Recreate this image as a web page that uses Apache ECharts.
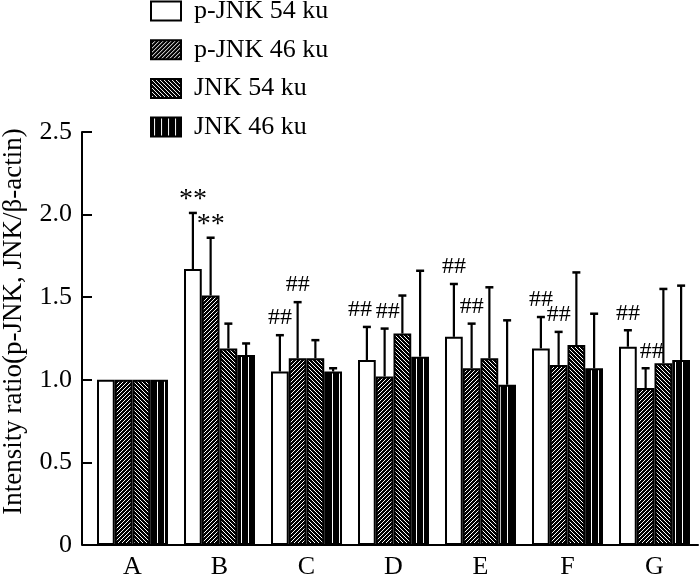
<!DOCTYPE html>
<html>
<head>
	<meta charset="utf-8" />
	<title>JNK</title>
	<style type="text/css">
		html,body{margin:0;padding:0;background:#fff;}
		#main{width:700px;height:579px;}
	</style>
</head>
<body>
	<div id="main"></div>
<script src="https://cdn.jsdelivr.net/npm/echarts@6/dist/echarts.min.js"></script>
<script>
	// 组别
	var groups = ['A', 'B', 'C', 'D', 'E', 'F', 'G'];
	var seriesNames = ['p-JNK 54 ku', 'p-JNK 46 ku', 'JNK 54 ku', 'JNK 46 ku'];
	// 均值
	var pJnk54 = [1.00, 1.67, 1.05, 1.12, 1.26, 1.19, 1.20];
	var pJnk46 = [1.00, 1.51, 1.13, 1.02, 1.07, 1.09, 0.95];
	var jnk54 = [1.00, 1.19, 1.13, 1.28, 1.13, 1.21, 1.10];
	var jnk46 = [1.00, 1.15, 1.05, 1.14, 0.97, 1.07, 1.12];
	// 标准差 (只画上半部分)
	var pJnk54Sd = [0, 0.34, 0.22, 0.20, 0.32, 0.19, 0.10];
	var pJnk46Sd = [0, 0.35, 0.34, 0.29, 0.27, 0.20, 0.12];
	var jnk54Sd = [0, 0.15, 0.11, 0.23, 0.43, 0.44, 0.45];
	var jnk46Sd = [0, 0.07, 0.02, 0.52, 0.39, 0.33, 0.45];
	// 显著性标记
	var pJnk54Mark = ['', '**', '##', '##', '##', '##', '##'];
	var pJnk46Mark = ['', '**', '##', '##', '##', '##', '##'];
	var jnk54Mark = ['', '', '', '', '', '', ''];
	var jnk46Mark = ['', '', '', '', '', '', ''];

	var means = [pJnk54, pJnk46, jnk54, jnk46];
	var sds = [pJnk54Sd, pJnk46Sd, jnk54Sd, jnk46Sd];
	var marks = [pJnk54Mark, pJnk46Mark, jnk54Mark, jnk46Mark];
	// 几个标记稍微左右挪一下, 免得重叠 (系列-组别: 像素)
	var markNudge = {'0-3': -7, '1-3': 3, '1-6': 6};

	var GAP = 0.184;
	var FONT = '"Liberation Serif", "Times New Roman", serif';

	// 填充图案, 逐像素画, 线条清楚一点
	function hatch(kind) {
		var s = kind === 'v' ? 7 : 4;
		var c = document.createElement('canvas');
		c.width = s; c.height = s;
		var g = c.getContext('2d');
		var img = g.createImageData(s, s);
		for (var y = 0; y < s; y++) {
			for (var x = 0; x < s; x++) {
				var white;
				if (kind === 'v') white = x === 3;
				else if (kind === 'up') white = (x + y) % s === 0;
				else white = (x - y + s) % s === 0;
				var p = (y * s + x) * 4;
				var v = white ? 255 : 0;
				img.data[p] = v; img.data[p + 1] = v; img.data[p + 2] = v; img.data[p + 3] = 255;
			}
		}
		g.putImageData(img, 0, 0);
		return {image: c, repeat: 'repeat'};
	}
	var fills = ['#fff', hatch('up'), hatch('down'), hatch('v')];

	// 误差棒数据
	var errData = [];
	var errMarks = [];
	var errNudge = [];
	for (var s = 0; s < 4; s++) {
		for (var i = 0; i < groups.length; i++) {
			errData.push([i, means[s][i], means[s][i] + sds[s][i], s]);
			errMarks.push(marks[s][i]);
			errNudge.push(markNudge[s + '-' + i] || 0);
		}
	}

	var chart = echarts.init(document.getElementById('main'));
	var series = [];
	for (var k = 0; k < 4; k++) {
		series.push({
			name: seriesNames[k],
			type: 'bar',
			data: means[k],
			barGap: '0%',
			barCategoryGap: (GAP * 100) + '%',
			itemStyle: {
				color: fills[k],
				borderColor: '#000',
				borderWidth: 2
			},
			emphasis: {disabled: true}
		});
	}
	series.push({
		type: 'custom',
		z: 5,
		data: errData,
		encode: {x: 0, y: 2},
		renderItem: function (params, api) {
			var cat = api.value(0), mean = api.value(1), top = api.value(2), s = api.value(3);
			var band = api.size([1, 0])[0];
			var bw = band * (1 - GAP) / 4;
			var p0 = api.coord([cat, mean]);
			var p1 = api.coord([cat, top]);
			var x = p0[0] + (s - 1.5) * bw;
			var children = [];
			if (top > mean) {
				children.push({
					type: 'line',
					shape: {x1: x, y1: p0[1], x2: x, y2: p1[1]},
					style: {stroke: '#000', lineWidth: 2.2}
				});
				children.push({
					type: 'line',
					shape: {x1: x - 4, y1: p1[1], x2: x + 4, y2: p1[1]},
					style: {stroke: '#000', lineWidth: 2.5}
				});
			}
			var m = errMarks[params.dataIndex];
			if (m) {
				var star = m === '**';
				children.push({
					type: 'text',
					style: {
						x: x + errNudge[params.dataIndex],
						y: p1[1] - (star ? -1 : 5),
						text: m,
						fill: '#000',
						font: (star ? '28px ' : '24px ') + FONT,
						align: 'center',
						verticalAlign: 'bottom'
					}
				});
			}
			return {type: 'group', children: children};
		}
	});

	chart.setOption({
		animation: false,
		textStyle: {fontFamily: FONT, color: '#000'},
		legend: {
			data: seriesNames,
			orient: 'vertical',
			left: 150,
			top: -2,
			padding: 0,
			itemWidth: 30,
			itemHeight: 19,
			itemGap: 12.7,
			icon: 'rect',
			textStyle: {fontSize: 26, lineHeight: 26, color: '#000', fontFamily: FONT, padding: [0, 0, 0, 8]}
		},
		grid: {left: 89, top: 132, width: 609, height: 413, containLabel: false, outerBoundsMode: 'none'},
		xAxis: {
			type: 'category',
			data: groups,
			axisLine: {lineStyle: {color: '#000', width: 2}},
			axisTick: {show: false},
			axisLabel: {fontSize: 26, color: '#000', margin: 9, fontFamily: FONT}
		},
		yAxis: {
			type: 'value',
			min: 0,
			max: 2.5,
			interval: 0.5,
			offset: 7,
			name: 'Intensity ratio(p-JNK, JNK/β-actin)',
			nameLocation: 'middle',
			nameGap: 55,
			nameTextStyle: {fontSize: 27, color: '#000', fontFamily: FONT, padding: [0, 0, 0, 34]},
			axisLine: {show: true, lineStyle: {color: '#000', width: 2}},
			axisTick: {show: true, inside: true, length: 10, lineStyle: {color: '#000', width: 2}},
			splitLine: {show: false},
			axisLabel: {
				fontSize: 26, color: '#000', margin: 10, fontFamily: FONT,
				formatter: function (v) { return v === 0 ? '0' : v.toFixed(1); }
			}
		},
		series: series
	});

	// x 轴线左端接到 y 轴上
	var y0 = chart.convertToPixel({yAxisIndex: 0}, 0);
	chart.setOption({
		graphic: [{
			type: 'line',
			shape: {x1: 89 - 7, y1: y0, x2: 89, y2: y0},
			style: {stroke: '#000', lineWidth: 2}
		}]
	});
</script>
</body>
</html>
